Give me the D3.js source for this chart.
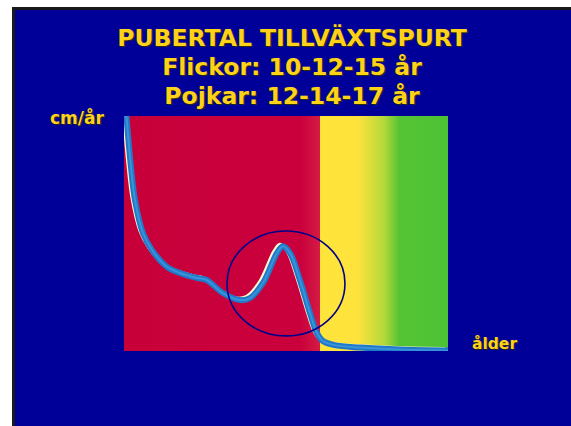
<!DOCTYPE html>
<html><head><meta charset="utf-8">
<script src="https://cdn.jsdelivr.net/npm/d3@7/dist/d3.min.js"></script>
<style>html,body{margin:0;padding:0;background:#fff;overflow:hidden}</style>
</head><body>
<script>
// Data
const titleLines = ["PUBERTAL TILLVÄXTSPURT", "Flickor: 10-12-15 år", "Pojkar: 12-14-17 år"];
const yLabel = "cm/år";
const xLabel = "ålder";
const ages = [0.15, 0.43, 0.68, 1.17, 1.73, 2.65, 3.46, 4.5, 5.1, 6.1, 7.16, 7.78, 8.58, 9.44, 9.8, 10.25, 10.86, 11.48, 11.91, 12.28, 13.0, 14.6, 17.0, 20.0];
const velocity = [24, 18.8, 15.4, 12.05, 10.3, 8.6, 7.97, 7.46, 7.25, 5.92, 5.2, 5.41, 6.95, 10.0, 10.7, 10.0, 7.25, 3.88, 1.84, 1.02, 0.6, 0.35, 0.15, 0.05];
const zoneStarts = [0, 12.1];
const zoneEnds = [12.1, 20];
const zoneNames = ["growth", "finish"];
const spurtCenter = [10.0, 6.9]; // age, cm/år
const spurtRadius = [3.64, 5.36]; // age-units, cm/år units

const W = 571, H = 426;
const svg = d3.select("body").append("svg").attr("width", W).attr("height", H);
const defs = svg.append("defs");

// slide background
svg.append("rect").attr("x", 12).attr("y", 7).attr("width", W - 12).attr("height", H - 7).attr("fill", "#000").attr("opacity", 0.9);
svg.append("rect").attr("x", 15).attr("y", 10).attr("width", W - 15).attr("height", H - 10).attr("fill", "#000099");

const x = d3.scaleLinear().domain([0, 20]).range([124, 448]);
const y = d3.scaleLinear().domain([0, 24]).range([351, 116]);

// gradients
const g1 = defs.append("linearGradient").attr("id", "gy").attr("x1", "0").attr("x2", "1").attr("y1", "0").attr("y2", "0");
[[0, "#ffe53a"], [0.3, "#fde23c"], [0.5, "#b4d83a"], [0.62, "#55c434"], [1, "#4cc235"]].forEach(s => g1.append("stop").attr("offset", s[0]).attr("stop-color", s[1]));
const g0 = defs.append("linearGradient").attr("id", "gr").attr("x1", "0").attr("x2", "1");
[[0, "#c8003a"], [0.9, "#c9003c"], [1, "#d41c44"]].forEach(s => g0.append("stop").attr("offset", s[0]).attr("stop-color", s[1]));

svg.selectAll("rect.zone").data(zoneNames).join("rect").attr("class", "zone")
  .attr("x", (d, i) => x(zoneStarts[i])).attr("y", y(24))
  .attr("width", (d, i) => x(zoneEnds[i]) - x(zoneStarts[i]))
  .attr("height", y(0) - y(24))
  .attr("fill", (d, i) => i === 0 ? "url(#gr)" : "url(#gy)");

const pts = ages.map((a, i) => [a, velocity[i]]);
const line = d3.line().x(d => x(d[0])).y(d => y(d[1])).curve(d3.curveCatmullRom.alpha(0.5));
const clip = defs.append("clipPath").attr("id", "clip");
clip.append("rect").attr("x", x(0)).attr("y", y(24)).attr("width", x(20) - x(0)).attr("height", y(0) - y(24));
const cg = svg.append("g").attr("clip-path", "url(#clip)");
cg.append("path").datum(pts).attr("d", line).attr("fill", "none").attr("stroke", "#fff8d0").attr("stroke-width", 3).attr("transform", "translate(-3,-2)");
cg.append("path").datum(pts).attr("d", line).attr("fill", "none").attr("stroke", "#1f78c8").attr("stroke-width", 6);
cg.append("path").datum(pts).attr("d", line).attr("fill", "none").attr("stroke", "#3a93d8").attr("stroke-width", 2);

svg.append("ellipse").attr("cx", x(spurtCenter[0])).attr("cy", y(spurtCenter[1]))
  .attr("rx", x(spurtRadius[0]) - x(0)).attr("ry", y(0) - y(spurtRadius[1]))
  .attr("fill", "none").attr("stroke", "#00008c").attr("stroke-width", 1.6);

const font = "'DejaVu Sans', sans-serif";
function txt(t, xx, yy, size, anchor) {
  svg.append("text").attr("x", xx + 1.2).attr("y", yy + 1.2).attr("font-family", font).attr("font-weight", "bold")
    .attr("font-size", size).attr("text-anchor", anchor).attr("fill", "#2a2a10").text(t);
  svg.append("text").attr("x", xx).attr("y", yy).attr("font-family", font).attr("font-weight", "bold")
    .attr("font-size", size).attr("text-anchor", anchor).attr("fill", "#ffd21a").text(t);
}
const baselines = [46, 75, 104];
titleLines.forEach((t, i) => txt(t, 292, baselines[i], 23.5, "middle"));
txt(yLabel, 50, 124, 17, "start");
txt(xLabel, 472, 349, 15.5, "start");
</script>
</body></html>
